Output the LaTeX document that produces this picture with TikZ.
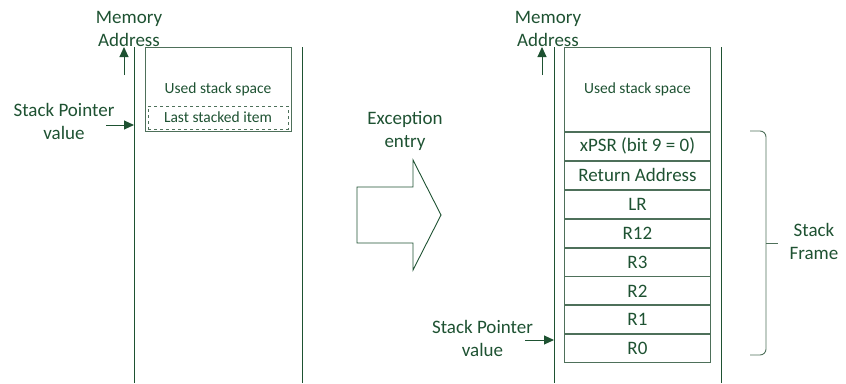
\documentclass[tikz,border=0pt]{standalone}
\usepackage{fontspec}
\setmainfont{Carlito}
\usepackage{tikz}
\usetikzlibrary{arrows.meta, positioning}
\definecolor{stkgreen}{RGB}{30,82,50}
\definecolor{stkline}{RGB}{78,112,90}

\begin{document}
\begin{tikzpicture}[
  x=1pt, y=-1pt,
  every node/.style={font=\fontsize{19}{23}\selectfont, text=stkgreen, align=center},
  rail/.style={draw=stkgreen, line width=0.9pt},
  cell/.style={rectangle, draw=stkline, line width=0.9pt, minimum width=146pt,
               minimum height=28pt, inner sep=0pt},
  used/.style={cell, minimum height=84pt, font=\fontsize{15.5}{19}\selectfont},
  lastitem/.style={rectangle, draw=stkline, dashed, line width=0.8pt,
                   minimum width=140pt, minimum height=23pt, inner sep=0pt,
                   font=\fontsize{15.5}{19}\selectfont},
  ptr/.style={-{Triangle[length=10pt,width=9pt]}, draw=stkgreen, line width=1pt},
  blockarrow/.style={draw=stkgreen, line width=0.9pt, line join=miter},
  frame/.style={draw=stkline, line width=0.9pt, rounded corners=6pt},
]
\useasboundingbox (0,0) rectangle (846,383);

% Before: stack with last stacked item
\coordinate (ltop) at (134,47);
\coordinate (lbot) at (134,383);
\coordinate (ltopr) at (302,47);
\coordinate (lbotr) at (302,383);
\draw[rail] (ltop) -- (lbot);
\draw[rail] (ltopr) -- (lbotr);

\node[used, anchor=north west] (lused) at (145,47) {};
\node (lusedtxt) at (218,89) [font=\fontsize{15.5}{19}\selectfont] {Used stack space};
\node[lastitem] (last) at (218,117.5) {Last stacked item};

\node (lmem) at (129,29) {Memory\\Address};
\coordinate (lmemfoot) at (124,75);
\coordinate (lmemtip) at (124,47);
\draw[ptr] (lmemfoot) -- (lmemtip);

\node (lsp) at (64,121.5) {Stack Pointer\\value};
\coordinate (lspfoot) at (106,125);
\coordinate (lsptip) at (134,125);
\draw[ptr] (lspfoot) -- (lsptip);

% Exception entry
\node (entry) at (405,131) {Exception\\entry};
\draw[blockarrow] (357,187) -- (413,187) -- (413,160) -- (441,215)
  -- (413,270) -- (413,243) -- (357,243) -- cycle;

% After: stack frame pushed
\coordinate (rtop) at (554,47);
\coordinate (rbot) at (554,383);
\coordinate (rtopr) at (721,47);
\coordinate (rbotr) at (721,383);
\draw[rail] (rtop) -- (rbot);
\draw[rail] (rtopr) -- (rbotr);

\node[used, anchor=north west] (rused) at (564,47) {Used stack space};
\node[cell, below=0pt of rused] (xpsr) {xPSR (bit 9 = 0)};
\node[cell, below=0pt of xpsr] (retaddr) {Return Address};
\node[cell, below=0pt of retaddr] (lr) {LR};
\node[cell, below=0pt of lr] (r12) {R12};
\node[cell, below=0pt of r12] (r3) {R3};
\node[cell, below=0pt of r3] (r2) {R2};
\node[cell, below=0pt of r2] (r1) {R1};
\node[cell, below=0pt of r1] (r0) {R0};

\node (rmem) at (548,29) {Memory\\Address};
\coordinate (rmemfoot) at (542,75);
\coordinate (rmemtip) at (542,47);
\draw[ptr] (rmemfoot) -- (rmemtip);

\node (rsp) at (482.5,338.5) {Stack Pointer\\value};
\coordinate (rspfoot) at (525,340);
\coordinate (rsptip) at (554,340);
\draw[ptr] (rspfoot) -- (rsptip);

% Stack frame bracket
\draw[frame] (750,131) -- (766,131) -- (766,355) -- (750,355);
\coordinate (fmid) at (766,243);
\coordinate (ftick) at (778,243);
\draw[draw=stkline, line width=0.9pt] (fmid) -- (ftick);
\node (sframe) at (814,241) {Stack\\Frame};

\end{tikzpicture}
\end{document}
